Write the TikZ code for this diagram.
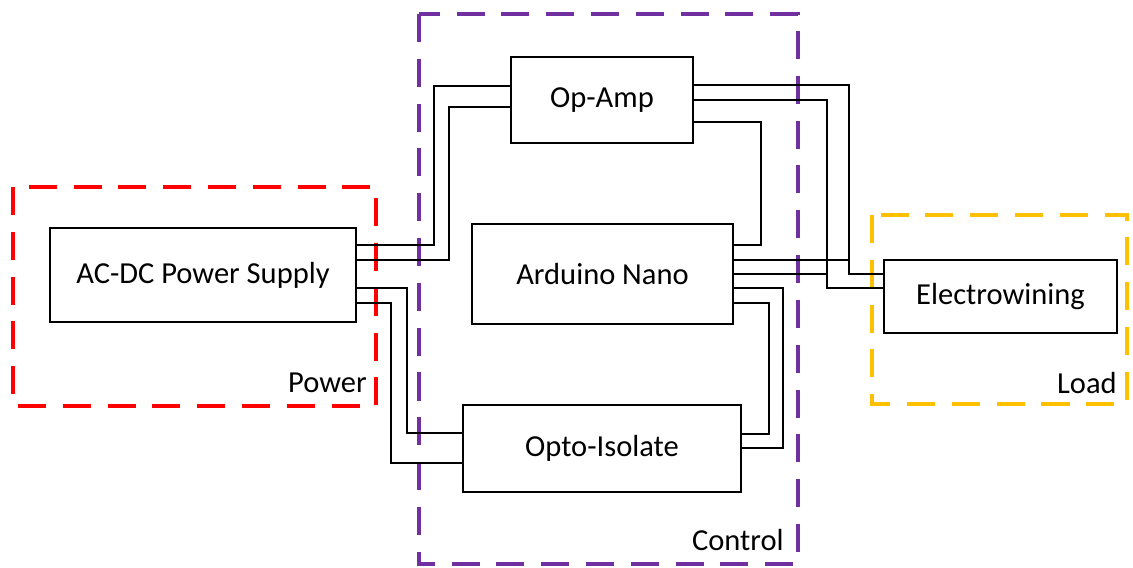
\documentclass[tikz,border=0pt]{standalone}
\usepackage{fontspec}
\setmainfont{Carlito}

\begin{document}
\begin{tikzpicture}[x=0.025cm,y=-0.025cm,
	block/.style={draw,line width=1pt,inner sep=0pt,font=\fontsize{21.7}{26}\selectfont},
	wire/.style={line width=1pt},
	group/.style={line width=2.2pt,dash pattern=on 0.7cm off 0.42cm},
	grouplabel/.style={anchor=east,inner sep=0pt,font=\fontsize{21.7}{26}\selectfont}]
	
	\useasboundingbox (0,0) rectangle (1133,567);
	\definecolor{powerred}{RGB}{255,0,0}
	\definecolor{controlpurple}{RGB}{112,48,160}
	\definecolor{loadyellow}{RGB}{255,192,0}
	
	\draw[group,powerred] (13,187) rectangle (376,406);
	\draw[group,controlpurple] (419,14) rectangle (798,564);
	\draw[group,loadyellow] (872,215) rectangle (1127,404);
	
	\node[grouplabel] (power) at (367,383) {Power};
	\node[grouplabel] (control) at (784,540) {Control};
	\node[grouplabel] (load) at (1117,383) {Load};
	
	\node[block,minimum width=7.65cm,minimum height=2.35cm] (psu) at (203,275) {AC-DC Power Supply};
	\node[block,minimum width=4.55cm,minimum height=2.15cm] (opamp) at (602,100) {Op-Amp};
	\node[block,minimum width=6.525cm,minimum height=2.5cm] (nano) at (602.5,274) {Arduino Nano};
	\node[block,minimum width=6.95cm,minimum height=2.175cm] (opto) at (602,448.5) {Opto-Isolate};
	\node[block,minimum width=5.825cm,minimum height=1.825cm] (load box) at (1000.5,296.5) {Electrowining};
	
	\coordinate (j1) at (849,260);
	\coordinate (j2) at (827,274);
	
	\draw[wire] (psu.east |- 0,245) -| (434,86) -- (opamp.west |- 0,86);
	\draw[wire] (psu.east |- 0,260) -| (449,107) -- (opamp.west |- 0,107);
	\draw[wire] (psu.east |- 0,288) -| (407,433) -- (opto.west |- 0,433);
	\draw[wire] (psu.east |- 0,303) -| (391,463) -- (opto.west |- 0,463);
	
	\draw[wire] (opamp.east |- 0,85) -| (849,274) -- (load box.west |- 0,274);
	\draw[wire] (opamp.east |- 0,100) -| (827,288) -- (load box.west |- 0,288);
	\draw[wire] (opamp.east |- 0,122) -| (761,245) -- (nano.east |- 0,245);
	
	\draw[wire] (nano.east |- j1) -- (j1);
	\draw[wire] (nano.east |- j2) -- (j2);
	\draw[wire] (nano.east |- 0,288) -| (783,448) -- (opto.east |- 0,448);
	\draw[wire] (nano.east |- 0,303) -| (769,434) -- (opto.east |- 0,434);
	
\end{tikzpicture}
\end{document}
